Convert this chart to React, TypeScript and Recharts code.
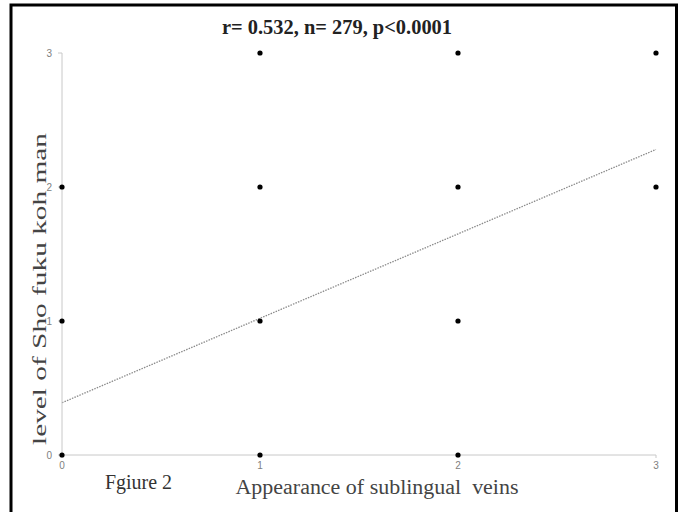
import React from "react";
import { ScatterChart, Scatter, XAxis, YAxis, ReferenceLine } from "recharts";

const xTicks = [0, 1, 2, 3];
const yTicks = [0, 1, 2, 3];
const pointX = [0, 0, 0, 1, 1, 1, 1, 2, 2, 2, 2, 3, 3];
const pointY = [0, 1, 2, 0, 1, 2, 3, 0, 1, 2, 3, 2, 3];
const trendStart = { x: 0, y: 0.39 };
const trendEnd = { x: 3, y: 2.28 };
const titleText = "r= 0.532, n= 279, p<0.0001";
const xLabelText = "Appearance of sublingual\u00a0 veins";
const yLabelText = "level of Sho fuku koh man";
const figureText = "Fgiure 2";

const points = pointX.map((x, i) => ({ x, y: pointY[i] }));

const Dot = (props: any) => {
  const { cx, cy } = props;
  return <circle cx={cx} cy={cy} r={2.6} fill="#000" />;
};

const tickStyle = { fontSize: 10, fill: "#808080", fontFamily: "Arial, 'Liberation Sans', sans-serif" };
const serif = "'Liberation Serif', 'DejaVu Serif', serif";

export default function App() {
  return (
    <div style={{ position: "absolute", left: 0, top: 0, width: 680, height: 512, background: "#fff", overflow: "hidden" }}>
      <ScatterChart width={680} height={512} margin={{ top: 53, right: 24, bottom: 27, left: 22 }}>
        <XAxis
          type="number"
          dataKey="x"
          domain={[0, 3]}
          ticks={xTicks}
          height={30}
          tick={tickStyle}
          tickSize={3}
          tickMargin={4}
          axisLine={{ stroke: "#c8c8c8" }}
          tickLine={{ stroke: "#c8c8c8" }}
        />
        <YAxis
          type="number"
          dataKey="y"
          domain={[0, 3]}
          ticks={yTicks}
          width={40}
          tick={tickStyle}
          tickSize={4}
          tickMargin={6}
          axisLine={{ stroke: "#c8c8c8" }}
          tickLine={{ stroke: "#c8c8c8" }}
        />
        <ReferenceLine
          segment={[trendStart, trendEnd]}
          stroke="#8a8a8a"
          strokeWidth={1.3}
          strokeDasharray="1.5 1.2"
          ifOverflow="visible"
        />
        <Scatter data={points} shape={<Dot />} isAnimationActive={false} />
      </ScatterChart>
      <svg width={680} height={512} style={{ position: "absolute", left: 0, top: 0, pointerEvents: "none" }}>
        <rect x={11} y={5} width={665.5} height={530} fill="none" stroke="#000" strokeWidth={3} />
        <text x={337} y={34} textAnchor="middle" fontFamily={serif} fontWeight="bold" fontSize={20} fill="#222" textLength={230} lengthAdjust="spacingAndGlyphs">
          {titleText}
        </text>
        <text x={377} y={494} textAnchor="middle" fontFamily={serif} fontSize={20} fill="#444" textLength={283} lengthAdjust="spacingAndGlyphs">
          {xLabelText}
        </text>
        <text x={105} y={489} fontFamily={serif} fontSize={20} fill="#333" textLength={67} lengthAdjust="spacingAndGlyphs">
          {figureText}
        </text>
        <text x={0} y={0} transform="translate(46,289) rotate(-90)" textAnchor="middle" fontFamily={serif} fontSize={19} fill="#444" textLength={312} lengthAdjust="spacingAndGlyphs">
          {yLabelText}
        </text>
      </svg>
    </div>
  );
}
